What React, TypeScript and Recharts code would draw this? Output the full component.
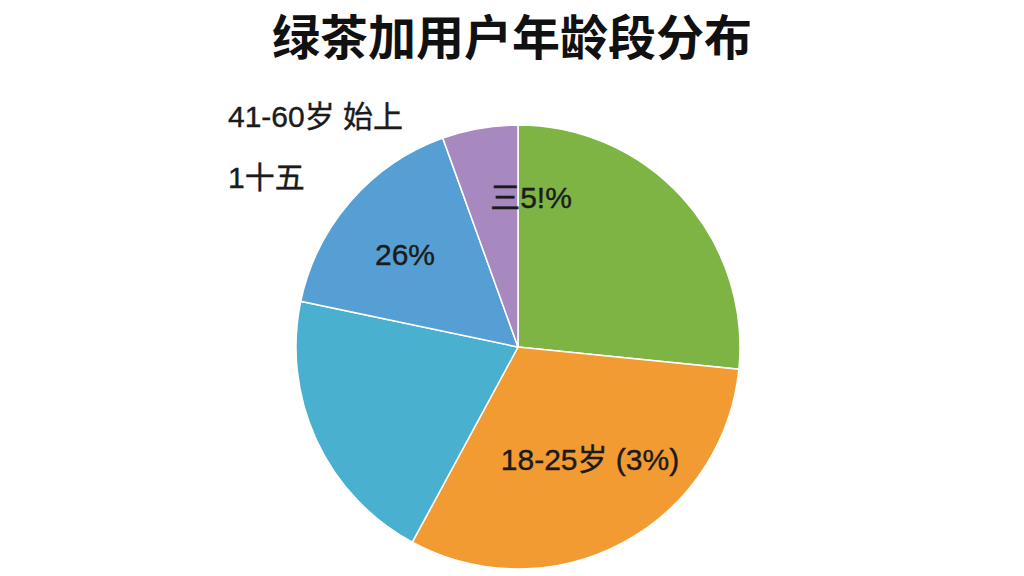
import React from 'react';
import { PieChart, Pie, Cell } from 'recharts';

// slice order: clockwise from 12 o'clock
const segments = ['26-40岁', '18-25岁', '60岁以上', '41-60岁', '18岁以下'];
const shares = [26.6, 31.3, 20.4, 16.2, 5.5];
const labels = ['三5!%', '18-25岁 (3%)', '1十五', '26%', '41-60岁 始上'];

const COLORS = ['#7db443', '#f39b33', '#49b0d0', '#569fd4', '#a788bf'];

// label anchor offsets from the pie centre
const LABEL_SPOTS = [
  { dx: 13, dy: -150, anchor: 'middle' },
  { dx: 72, dy: 112, anchor: 'middle' },
  { dx: -290, dy: -170, anchor: 'start' },
  { dx: -113, dy: -93, anchor: 'middle' },
  { dx: -290, dy: -231, anchor: 'start' },
];

const data = segments.map((name, i) => ({ name, value: shares[i], label: labels[i] }));

const FONT = '"Liberation Sans", "Noto Sans CJK SC", sans-serif';

const renderLabel = (props: any) => {
  const { cx, cy, index } = props;
  const spot = LABEL_SPOTS[index];
  return (
    <text
      x={cx + spot.dx}
      y={cy + spot.dy}
      textAnchor={spot.anchor as any}
      dominantBaseline="central"
      fill="#1b1b1b"
      fontSize={30}
      fontFamily={FONT}
      stroke="#1b1b1b"
      strokeWidth={0.4}
    >
      {data[index].label}
    </text>
  );
};

export default function App() {
  return (
    <div style={{ position: 'fixed', left: 0, top: 0, width: 1024, height: 576, background: '#fff', overflow: 'hidden' }}>
      <PieChart
        width={1024}
        height={576}
        margin={{ top: 0, right: 0, bottom: 0, left: 0 }}
        style={{ position: 'absolute', left: 0, top: 0 }}
      >
        <Pie
          data={data}
          dataKey="value"
          nameKey="name"
          cx={518}
          cy={347}
          outerRadius={222}
          startAngle={90}
          endAngle={-270}
          stroke="#ffffff"
          strokeWidth={1.5}
          label={renderLabel}
          labelLine={false}
          isAnimationActive={false}
        >
          {data.map((entry, i) => (
            <Cell key={entry.name} fill={COLORS[i]} />
          ))}
        </Pie>
      </PieChart>
      <div
        style={{
          position: 'absolute',
          left: 0,
          top: 4,
          width: 1024,
          zIndex: 2,
          textAlign: 'center',
          fontFamily: '"Noto Sans CJK SC", sans-serif',
          fontWeight: 700,
          fontSize: 48,
          lineHeight: '60px',
          color: '#111',
          whiteSpace: 'nowrap',
        }}
      >
        绿茶加用户年龄段分布
      </div>
    </div>
  );
}
